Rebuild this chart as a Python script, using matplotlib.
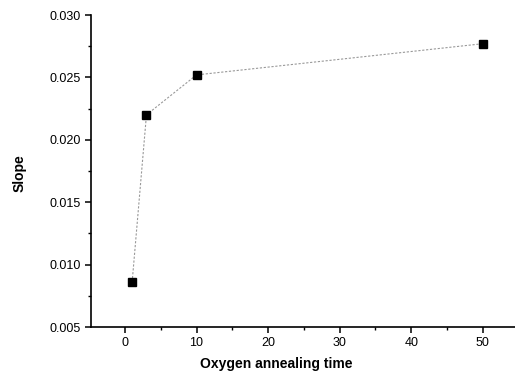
import matplotlib
matplotlib.use("Agg")
import matplotlib.pyplot as plt
from matplotlib.ticker import MultipleLocator

plt.rcParams['font.family'] = ['Liberation Sans', 'DejaVu Sans']

time = [1, 3, 10, 50]
slope = [0.0086, 0.0220, 0.0252, 0.0277]

fig = plt.figure(figsize=(5.15, 3.76), dpi=100)
ax = fig.add_axes([91/515, 1-327/376, 1-91/515, (327-15)/376])
ax.plot(time, slope, color='#999999', linestyle=(0, (2, 1.5)), linewidth=0.8,
        marker='s', markersize=5.5, markerfacecolor='black', markeredgecolor='black')
ax.set_xlim(-4.75, 54.5)
ax.set_ylim(0.005, 0.030)
ax.xaxis.set_major_locator(MultipleLocator(10))
ax.xaxis.set_minor_locator(MultipleLocator(5))
ax.yaxis.set_major_locator(MultipleLocator(0.005))
ax.yaxis.set_minor_locator(MultipleLocator(0.0025))
ax.yaxis.set_major_formatter(plt.FormatStrFormatter('%.3f'))
for s in ['top', 'right']:
    ax.spines[s].set_visible(False)
for s in ['left', 'bottom']:
    ax.spines[s].set_linewidth(1.2)
ax.tick_params(which='major', direction='out', length=4, width=1.1, labelsize=9)
ax.tick_params(which='minor', direction='out', length=2.5, width=1.0)
ax.set_xlabel('Oxygen annealing time', fontsize=10, fontweight='bold')
ax.xaxis.set_label_coords((276-91)/424, -(357-327)/312)
ax.set_ylabel('Slope', fontsize=10, fontweight='bold')
ax.yaxis.set_label_coords(-(91-27)/424, (327-173)/312)
fig.savefig('out.png', dpi=100)
